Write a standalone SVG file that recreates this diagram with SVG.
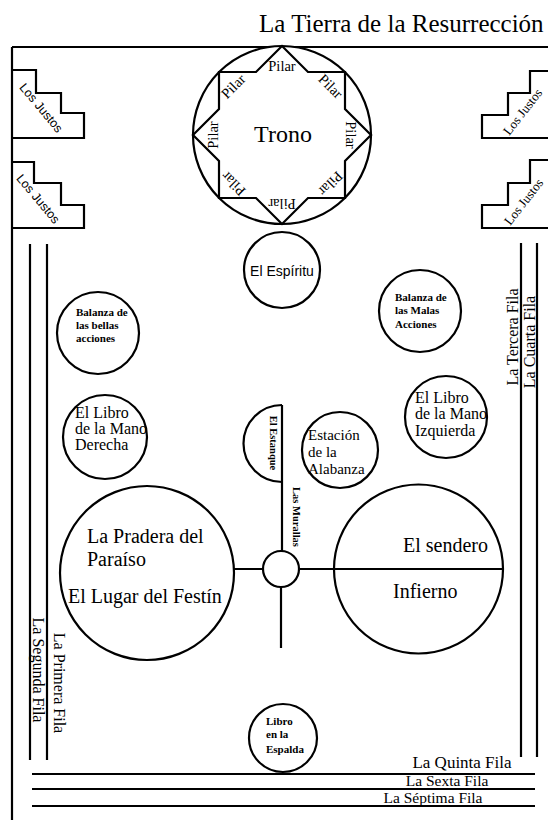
<svg xmlns="http://www.w3.org/2000/svg" width="548" height="820" viewBox="0 0 548 820">
<style>
.ln{fill:none;stroke:#000;stroke-width:2.2}
.c{fill:#fff;stroke:#000;stroke-width:2.2}
.t{font-family:"Liberation Serif","Times New Roman",serif;fill:#000}
.s{font-family:"Liberation Sans",Arial,sans-serif;fill:#000}
.b{font-weight:bold}
</style>
<rect width="548" height="820" fill="#fff"/>
<text class="t" x="259" y="32" font-size="25">La Tierra de la Resurrección</text>
<g id="frame">
<path class="ln" d="M12,47H548M12,47V820"/>
</g>
<g id="justos-left-1">
<polyline class="ln" points="12,70 36,70 36,93 61,93 61,113 84,113 84,138 12,138"/>
<text class="s" x="41" y="112" font-size="12.5" text-anchor="middle" transform="rotate(50 41 108)">Los Justos</text>
</g>
<g id="justos-left-2">
<polyline class="ln" points="12,162 34,162 34,183 61,183 61,205 84,205 84,228 12,228"/>
<text class="s" x="38" y="203" font-size="12.5" text-anchor="middle" transform="rotate(50 38 199)">Los Justos</text>
</g>
<g id="justos-right-1">
<polyline class="ln" points="548,71 530,71 530,93 508,93 508,115 482,115 482,138 548,138"/>
<text class="t" x="523" y="116" font-size="13" text-anchor="middle" transform="rotate(-52 523 112)">Los Justos</text>
</g>
<g id="justos-right-2">
<polyline class="ln" points="548,160 530,160 530,183 508,183 508,205 482,205 482,228 548,228"/>
<text class="t" x="524" y="206" font-size="13" text-anchor="middle" transform="rotate(-52 524 202)">Los Justos</text>
</g>
<g id="trono">
<circle class="c" cx="282" cy="135" r="89"/>
<polygon class="ln" points="282,46 308,72 345,72 345,109 371,135 345,161 345,198 308,198 282,224 256,198 219,198 219,161 193,135 219,109 219,72 256,72"/>
<g class="t" font-size="14.5" text-anchor="middle">
<text x="282" y="71">Pilar</text>
<text x="282" y="71" transform="rotate(45 282 135)">Pilar</text>
<text x="282" y="71" transform="rotate(90 282 135)">Pilar</text>
<text x="282" y="71" transform="rotate(135 282 135)">Pilar</text>
<text x="282" y="71" transform="rotate(180 282 135)">Pilar</text>
<text x="282" y="71" transform="rotate(225 282 135)">Pilar</text>
<text x="282" y="71" transform="rotate(270 282 135)">Pilar</text>
<text x="282" y="71" transform="rotate(315 282 135)">Pilar</text>
</g>
<text class="t" x="283" y="142" font-size="24" text-anchor="middle">Trono</text>
</g>
<g id="espiritu">
<circle class="c" cx="282" cy="270" r="38"/>
<text class="s" x="282" y="276" font-size="14" text-anchor="middle">El Espíritu</text>
</g>
<g id="balanza-bellas">
<circle class="c" cx="98" cy="333" r="41"/>
<text class="t b" font-size="11"><tspan x="76" y="316">Balanza de</tspan><tspan x="76" y="329">las bellas</tspan><tspan x="76" y="342">acciones</tspan></text>
</g>
<g id="balanza-malas">
<circle class="c" cx="420" cy="311" r="41"/>
<text class="t b" font-size="11"><tspan x="395" y="301">Balanza de</tspan><tspan x="395" y="314">las Malas</tspan><tspan x="395" y="328">Acciones</tspan></text>
</g>
<g id="libro-derecha">
<circle class="c" cx="105" cy="437" r="42"/>
<text class="t" font-size="16"><tspan x="75" y="418">El Libro</tspan><tspan x="75" y="434">de la Mano</tspan><tspan x="75" y="450">Derecha</tspan></text>
</g>
<g id="libro-izquierda">
<circle class="c" cx="446" cy="417" r="41"/>
<text class="t" font-size="16"><tspan x="415" y="403">El Libro</tspan><tspan x="415" y="419">de la Mano</tspan><tspan x="415" y="436">Izquierda</tspan></text>
</g>
<g id="estanque">
<path class="ln" d="M282,405A38.5,38.5 0 0 0 282,482"/>
<text class="t b" x="267" y="443" font-size="10.5" text-anchor="middle" transform="rotate(90 267 443)" dy="-3">El Estanque</text>
</g>
<g id="estacion">
<circle class="c" cx="340" cy="450" r="38"/>
<text class="t" font-size="15"><tspan x="308" y="440">Estación</tspan><tspan x="308" y="457">de la</tspan><tspan x="308" y="474">Alabanza</tspan></text>
</g>
<g id="connectors">
<path class="ln" d="M282,405V551M228,569H263M299,569H503M281,587V648"/>
</g>
<text class="t b" x="290" y="517" font-size="10.5" text-anchor="middle" transform="rotate(90 290 517)" dy="-3">Las Murallas</text>
<g id="murallas-circle">
<circle class="c" cx="281" cy="569" r="18"/>
</g>
<g id="pradera">
<circle class="c" cx="147" cy="573" r="87"/>
<text class="t" font-size="20"><tspan x="87" y="543">La Pradera del</tspan><tspan x="87" y="566">Paraíso</tspan><tspan x="68" y="603">El Lugar del Festín</tspan></text>
</g>
<g id="infierno">
<path class="ln" d="M334,569A84.5,84.5 0 0 1 503,569M334,569A84.5,84.5 0 0 0 503,569"/>
<text class="t" x="403" y="552" font-size="20">El sendero</text>
<text class="t" x="393" y="598" font-size="20">Infierno</text>
</g>
<g id="libro-espalda">
<circle class="c" cx="283" cy="738" r="34"/>
<text class="t b" font-size="11"><tspan x="266" y="725">Libro</tspan><tspan x="266" y="738">en la</tspan><tspan x="266" y="753">Espalda</tspan></text>
</g>
<g id="filas">
<path class="ln" d="M30,244V760M47,244V760M521,243V757M537,243V757M32,774H535M32,789H535M32,806H535"/>
<text class="t" x="58" y="683" font-size="16" text-anchor="middle" transform="rotate(90 58 683)" dy="4">La Primera Fila</text>
<text class="t" x="37" y="670" font-size="16" text-anchor="middle" transform="rotate(90 37 670)" dy="4">La Segunda Fila</text>
<text class="t" x="513" y="337" font-size="16" text-anchor="middle" transform="rotate(-90 513 337)" dy="5">La Tercera Fila</text>
<text class="t" x="530" y="342" font-size="16" text-anchor="middle" transform="rotate(-90 530 342)" dy="5">La Cuarta Fila</text>
<text class="t" x="462" y="768" font-size="17" text-anchor="middle">La Quinta Fila</text>
<text class="t" x="447" y="786" font-size="15.5" text-anchor="middle">La Sexta Fila</text>
<text class="t" x="433" y="803" font-size="15.5" text-anchor="middle">La Séptima Fila</text>
</g>
</svg>
